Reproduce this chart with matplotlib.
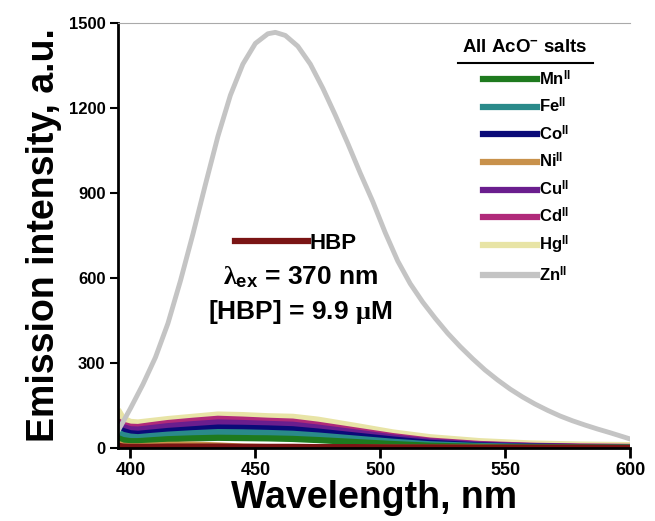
import numpy as np
import matplotlib.pyplot as plt
from matplotlib.lines import Line2D

plt.rcParams['font.family'] = ['Liberation Sans', 'DejaVu Sans']
plt.rcParams['font.weight'] = 'bold'
plt.rcParams['mathtext.fontset'] = 'custom'
plt.rcParams['mathtext.rm'] = 'Liberation Sans:bold'
plt.rcParams['mathtext.bf'] = 'Liberation Sans:bold'
plt.rcParams['mathtext.it'] = 'Liberation Serif:bold'

# Wavelength grid for the weak (non-Zn) spectra, nm
wl = [395, 397, 400, 403, 408, 415, 425, 435, 445, 455, 465, 475, 490, 505, 520, 540, 560, 580, 600]

hg = [135, 105, 92, 90, 95, 102, 110, 118, 116, 112, 110, 100, 78, 55, 38, 24, 16, 12, 10]
cd = [95, 82, 75, 74, 80, 88, 96, 103, 100, 96, 93, 82, 62, 42, 26, 14, 8, 5, 4]
cu = [85, 74, 66, 65, 70, 77, 84, 90, 88, 85, 82, 72, 55, 37, 23, 12, 7, 4, 3]
co = [70, 60, 52, 50, 54, 60, 66, 72, 71, 69, 66, 58, 44, 30, 18, 9, 5, 3, 2]
fe = [55, 46, 40, 38, 42, 47, 52, 56, 55, 53, 50, 44, 33, 22, 13, 7, 4, 2, 2]
mn = [35, 28, 24, 24, 27, 31, 34, 36, 35, 34, 32, 28, 21, 14, 8, 4, 2, 1, 1]
ni = [15, 8, 6, 6, 8, 11, 12, 9, 5, 3, 3, 2, 2, 1, 1, 1, 0, 0, 0]
hbp = [8, 5, 4, 4, 4, 5, 5, 5, 4, 4, 4, 3, 3, 2, 2, 1, 1, 1, 0]

# Zn(II) spectrum
wl_zn = [395, 400, 405, 410, 415, 420, 425, 430, 435, 440, 445, 450, 455, 458, 462,
         467, 472, 477, 482, 487, 492, 497, 502, 507, 512, 517, 522, 527, 532, 537,
         542, 547, 552, 557, 562, 567, 572, 577, 582, 587, 592, 596, 600]
zn = [60, 140, 225, 320, 440, 590, 755, 930, 1100, 1245, 1355, 1428, 1462, 1467, 1456,
      1418, 1355, 1270, 1175, 1075, 970, 870, 760, 660, 580, 515, 458, 405, 358, 315,
      275, 240, 208, 180, 155, 133, 113, 96, 81, 67, 54, 43, 32]

names = ['Mn', 'Fe', 'Co', 'Ni', 'Cu', 'Cd', 'Hg', 'Zn']
colors = {'Mn': '#1E7A1E', 'Fe': '#2A8A8A', 'Co': '#0A0A78', 'Ni': '#C8914B',
          'Cu': '#6A1E8E', 'Cd': '#B02A7A', 'Hg': '#E8E4A6', 'Zn': '#C4C4C4'}
hbp_color = '#7A1414'

fig = plt.figure(figsize=(6.55, 5.21), dpi=100)
ax = fig.add_axes([118 / 655, 1 - 448 / 521, 512 / 655, 425 / 521])

# weak spectra, drawn top band first
series = {'Hg': hg, 'Cd': cd, 'Cu': cu, 'Co': co, 'Fe': fe, 'Mn': mn, 'Ni': ni}
for n in ['Hg', 'Cd', 'Cu', 'Co', 'Fe', 'Mn', 'Ni']:
    ax.plot(wl, series[n], color=colors[n], lw=4.5, solid_capstyle='butt')
ax.plot(wl, hbp, color=hbp_color, lw=4.5, solid_capstyle='butt')
ax.plot(wl_zn, zn, color=colors['Zn'], lw=3.5, solid_joinstyle='round')

ax.set_xlim(395, 600)
ax.set_ylim(0, 1500)
ax.set_xticks([400, 450, 500, 550, 600])
ax.set_yticks([0, 300, 600, 900, 1200, 1500])
ax.tick_params(axis='x', direction='out', length=7, width=2, labelsize=13, pad=3)
ax.tick_params(axis='y', direction='out', length=6, width=1.5, labelsize=12, pad=3)
for lab in ax.get_xticklabels() + ax.get_yticklabels():
    lab.set_fontweight('bold')

ax.spines['left'].set_linewidth(2)
ax.spines['bottom'].set_linewidth(2)
ax.spines['right'].set_visible(False)
ax.spines['top'].set_color('#AAAAAA')
ax.spines['top'].set_linewidth(0.8)

ax.set_xlabel('Wavelength, nm', fontsize=27, fontweight='bold', labelpad=1)
ax.set_ylabel('Emission intensity, a.u.', fontsize=27, fontweight='bold', labelpad=5)

# metal salt legend
handles = [Line2D([], [], color=colors[n], lw=4.5) for n in names]
labels = [n + r'$^{\mathbf{II}}$' for n in names]
leg1 = ax.legend(handles, labels, loc='upper left', bbox_to_anchor=(483 / 655, 1 - 69 / 521),
                 bbox_transform=fig.transFigure, frameon=False, fontsize=12,
                 handlelength=3.25, handletextpad=0.12, labelspacing=0.5,
                 borderpad=0, borderaxespad=0)
fig.text(525 / 655, 1 - 48 / 521, r'All AcO$^{\mathbf{-}}$ salts', ha='center', va='center',
         fontsize=13.5, fontweight='bold')
fig.add_artist(Line2D([458 / 655, 593 / 655], [1 - 63 / 521, 1 - 63 / 521],
                      transform=fig.transFigure, color='black', lw=1.5))

# HBP legend and conditions
leg2 = ax.legend([Line2D([], [], color=hbp_color, lw=4.5)], ['HBP'], loc='center left',
                 bbox_to_anchor=(235 / 655, 1 - 243 / 521), bbox_transform=fig.transFigure,
                 frameon=False, fontsize=16, handlelength=3.3, handletextpad=0.05,
                 borderpad=0, borderaxespad=0)
ax.add_artist(leg1)
fig.text(301 / 655, 1 - 277 / 521, r'$\lambda_{\mathbf{ex}}$ = 370 nm', ha='center', va='center',
         fontsize=19, fontweight='bold')
fig.text(300 / 655, 1 - 312 / 521, r'[HBP] = 9.9 $\mu$M', ha='center', va='center',
         fontsize=19, fontweight='bold')

fig.savefig('out.png', dpi=100)
